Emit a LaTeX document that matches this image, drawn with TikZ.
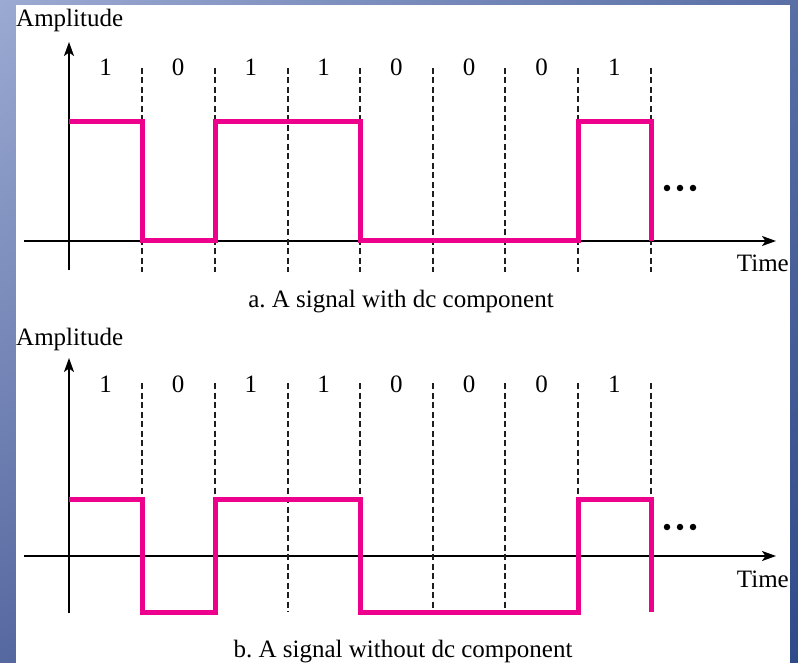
\documentclass[tikz,border=0pt]{standalone}
\usepackage{fontspec}
\setmainfont{Liberation Serif}
\frenchspacing
\usetikzlibrary{arrows.meta,shadings}

\definecolor{sigpink}{RGB}{236,0,140}
\definecolor{frameA}{RGB}{155,170,210}
\definecolor{frameB}{RGB}{88,110,165}
\definecolor{frameC}{RGB}{86,104,160}
\definecolor{frameD}{RGB}{48,74,138}
\definecolor{gridgray}{RGB}{30,30,30}

\tikzset{
  axisline/.style={line width=1.7pt, -{Stealth[length=14pt,width=10pt,inset=3.5pt]}},
  bitline/.style={gridgray, line width=1.6pt, dash pattern=on 6pt off 3.5pt},
  signal/.style={sigpink, line width=5pt, miter limit=10},
  lbl/.style={font=\fontsize{25}{29}\selectfont, inner sep=0pt},
  dot/.style={circle, fill=black, inner sep=0pt, minimum size=6.5pt},
}

\begin{document}
\begin{tikzpicture}[x=1pt, y=-1pt]
  \useasboundingbox (0,0) rectangle (798,663);
  % blue frame and white page
  \shade[upper left=frameA, upper right=frameB, lower left=frameC, lower right=frameD]
    (0,0) rectangle (798,663);
  \fill[white] (16,5) rectangle (790,663);

  % ---------- a. signal with dc component ----------
  \node[lbl, anchor=base west] (ampA) at (16,27) {Amplitude};
  \coordinate (yA0) at (69,270);  \coordinate (yA1) at (69,42);
  \coordinate (xA0) at (24,241);  \coordinate (xA1) at (776,241);
  \draw[axisline] (yA0) -- (yA1);
  \draw[axisline] (xA0) -- (xA1);
  \foreach \x in {142,215,288,360,433,505,578,651}
    \draw[bitline] (\x,68) -- (\x,272);
  \foreach \b [count=\i from 0] in {1,0,1,1,0,0,0,1}
    \node[lbl, anchor=base] (bitA\i) at ({105.5+72.7*\i},76) {\b};
  \draw[signal] (69,122) -- (142,122) -- (142,241) -- (215,241) -- (215,122)
    -- (360,122) -- (360,241) -- (578,241) -- (578,122) -- (651,122) -- (651,241);
  \node[dot] (dA1) at (667,188) {};
  \node[dot] (dA2) at (680,188) {};
  \node[dot] (dA3) at (693,188) {};
  \node[lbl, anchor=base east] (timeA) at (789,272) {Time};
  \node[lbl, anchor=base] (capA) at (401,307) {a. A signal with dc component};

  % ---------- b. signal without dc component ----------
  \node[lbl, anchor=base west] (ampB) at (16,345) {Amplitude};
  \coordinate (yB0) at (69,613);  \coordinate (yB1) at (69,358);
  \coordinate (xB0) at (24,556);  \coordinate (xB1) at (776,556);
  \draw[axisline] (yB0) -- (yB1);
  \draw[axisline] (xB0) -- (xB1);
  \foreach \x in {142,215,288,360,433,505,578,651}
    \draw[bitline] (\x,383) -- (\x,612);
  \foreach \b [count=\i from 0] in {1,0,1,1,0,0,0,1}
    \node[lbl, anchor=base] (bitB\i) at ({105.5+72.7*\i},392) {\b};
  \draw[signal] (69,499) -- (142,499) -- (142,612) -- (215,612) -- (215,499)
    -- (360,499) -- (360,612) -- (578,612) -- (578,499) -- (651,499) -- (651,612);
  \node[dot] (dB1) at (667,527) {};
  \node[dot] (dB2) at (680,527) {};
  \node[dot] (dB3) at (693,527) {};
  \node[lbl, anchor=base east] (timeB) at (789,587) {Time};
  \node[lbl, anchor=base] (capB) at (403,657) {b. A signal without dc component};
\end{tikzpicture}
\end{document}
